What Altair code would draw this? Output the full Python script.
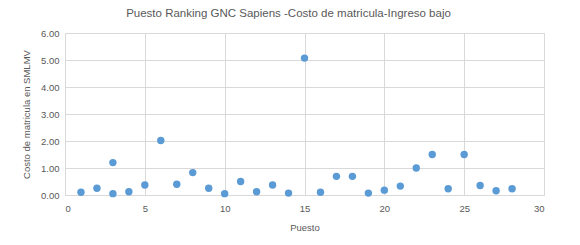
import altair as alt
import pandas as pd

puesto = [1, 2, 3, 3, 4, 5, 6, 7, 8, 9, 10, 11, 12, 13, 14, 15, 16, 17, 18, 19, 20, 21, 22, 23, 24, 25, 26, 27, 28]
costo = [0.10, 0.25, 1.20, 0.05, 0.12, 0.37, 2.02, 0.40, 0.83, 0.25, 0.05, 0.50, 0.12, 0.37, 0.07, 5.07,
         0.10, 0.69, 0.69, 0.07, 0.18, 0.33, 1.00, 1.50, 0.23, 1.50, 0.35, 0.16, 0.23]

df = pd.DataFrame({"Puesto": puesto, "Costo": costo})

FONT = "Liberation Sans"

chart = alt.Chart(df).mark_circle(size=55, opacity=1, color="#5b9bd5").encode(
    x=alt.X("Puesto:Q", scale=alt.Scale(domain=[0, 30], nice=False),
            axis=alt.Axis(values=[0, 5, 10, 15, 20, 25, 30], title="Puesto", format="d",
                          grid=True, gridColor="#d9d9d9", domain=False, ticks=False,
                          labelPadding=8, titlePadding=10)),
    y=alt.Y("Costo:Q", scale=alt.Scale(domain=[0, 6], nice=False),
            axis=alt.Axis(values=[0, 1, 2, 3, 4, 5, 6], title="Costo de matricula en SMLMV", format=".2f",
                          grid=True, gridColor="#d9d9d9", domain=False, ticks=False,
                          labelPadding=6, titlePadding=9)),
).properties(
    width=479, height=162,
    title=alt.TitleParams("Puesto Ranking GNC Sapiens -Costo de matricula-Ingreso bajo",
                          fontSize=11.5, font=FONT, fontWeight="normal", color="#595959",
                          offset=9, dx=-16),
    autosize=alt.AutoSizeParams(type="none"),
    padding={"left": 57, "top": 25, "right": 20, "bottom": 40},
).configure_axis(
    labelFont=FONT, titleFont=FONT, labelColor="#595959", titleColor="#595959",
    labelFontSize=9.5, titleFontSize=9.5, titleFontWeight="normal"
).configure_view(stroke="#d9d9d9")

chart.save("out.html", embed_options={"renderer": "svg", "actions": False})
